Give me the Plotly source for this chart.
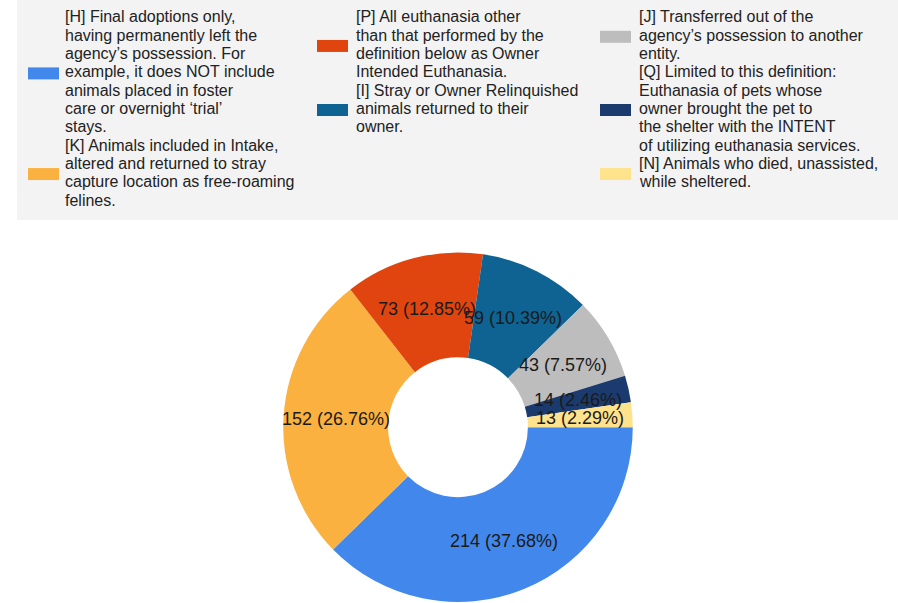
import math
import plotly.graph_objects as go

# ---------------- data ----------------
codes = ["H", "K", "P", "I", "J", "Q", "N"]
values = [214, 152, 73, 59, 43, 14, 13]
colors = ["#4288EC", "#FBB13F", "#E0450F", "#0E6392", "#BDBDBD", "#1B3B6E", "#FEE28C"]
legend_lines = [
    ["[H] Final adoptions only,", "having permanently left the", "agency\u2019s possession. For",
     "example, it does NOT include", "animals placed in foster", "care or overnight \u2018trial\u2019", "stays."],
    ["[K] Animals included in Intake,", "altered and returned to stray",
     "capture location as free-roaming", "felines."],
    ["[P] All euthanasia other", "than that performed by the", "definition below as Owner",
     "Intended Euthanasia."],
    ["[I] Stray or Owner Relinquished", "animals returned to their", "owner."],
    ["[J] Transferred out of the", "agency\u2019s possession to another", "entity."],
    ["[Q] Limited to this definition:", "Euthanasia of pets whose", "owner brought the pet to",
     "the shelter with the INTENT", "of utilizing euthanasia services."],
    ["[N] Animals who died, unassisted,", "while sheltered."],
]
legend_columns = [[0, 1], [2, 3], [4, 5, 6]]

# ---------------- layout constants ----------------
W, H = 898, 603
FONT = "Liberation Sans, Arial, sans-serif"
HOLE = 0.4
pie_x_px = (283, 633)
pie_y_px = (252.5, 602)
xdom = [pie_x_px[0] / W, pie_x_px[1] / W]
ydom = [1 - pie_y_px[1] / H, 1 - pie_y_px[0] / H]


def px_x(x):
    return x / W


def px_y(y):
    return 1 - y / H


fig = go.Figure()
fig.add_trace(go.Pie(
    labels=codes, values=values, hole=HOLE, sort=False, direction="clockwise",
    rotation=90, textinfo="none", showlegend=False, hoverinfo="label+value+percent",
    marker=dict(colors=colors, line=dict(width=0)),
    domain=dict(x=xdom, y=ydom),
))

# ---------------- slice labels (placed at ring mid-radius via hidden axes) ----------------
total = sum(values)
annotations = []
cum = 0
rmid = (HOLE + 1) / 2
for v in values:
    ang = math.radians(90 + 360 * (cum + v / 2) / total)
    cum += v
    annotations.append(dict(
        x=rmid * math.sin(ang), y=rmid * math.cos(ang), xref="x", yref="y",
        text=f"{v} ({100 * v / total:.2f}%)", showarrow=False,
        font=dict(family=FONT, size=18, color="#1a1a1a"),
        xanchor="center", yanchor="middle",
    ))

# ---------------- custom legend ----------------
shapes = [dict(type="rect", xref="paper", yref="paper", x0=px_x(17), x1=1.0,
               y0=px_y(220), y1=1.0, fillcolor="#F3F3F3", line=dict(width=0), layer="below")]
col_swatch_x = [28, 317, 600]
col_text_x = [63, 354, 637]
line0, step = 17, 18.3
for ci, col in enumerate(legend_columns):
    k = 0
    for idx in col:
        lines = legend_lines[idx]
        first = line0 + k * step
        for j, ln in enumerate(lines):
            annotations.append(dict(
                x=px_x(col_text_x[ci]), y=px_y(first + j * step), xref="paper", yref="paper",
                text=ln, showarrow=False, xanchor="left", yanchor="middle",
                font=dict(family=FONT, size=16, color="#222222"),
            ))
        mid = first + (len(lines) - 1) * step / 2 + 1.5
        shapes.append(dict(type="rect", xref="paper", yref="paper",
                           x0=px_x(col_swatch_x[ci]), x1=px_x(col_swatch_x[ci] + 31),
                           y0=px_y(mid + 6), y1=px_y(mid - 6),
                           fillcolor=colors[idx], line=dict(width=0)))
        k += len(lines)

fig.update_layout(
    width=W, height=H, margin=dict(l=0, r=0, t=0, b=0),
    paper_bgcolor="white", plot_bgcolor="rgba(0,0,0,0)",
    showlegend=False,
    xaxis=dict(domain=xdom, range=[-1, 1], visible=False, fixedrange=True),
    yaxis=dict(domain=ydom, range=[-1, 1], visible=False, fixedrange=True),
    annotations=annotations, shapes=shapes,
    font=dict(family=FONT),
)

fig.write_html("out.html", config={"displayModeBar": False},
               post_script="document.body.style.margin='0px';document.body.style.overflow='hidden';")
